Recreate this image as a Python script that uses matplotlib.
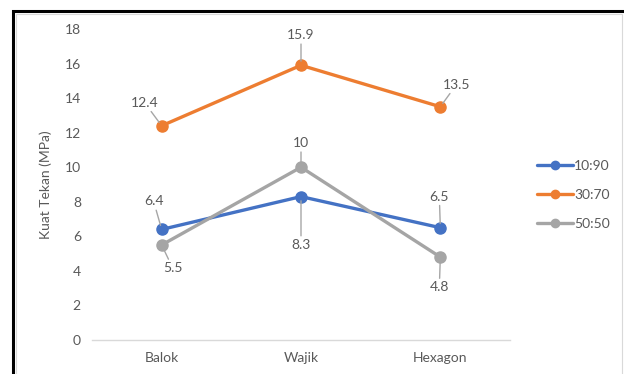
import matplotlib.pyplot as plt
from matplotlib.patches import Rectangle

# data
kategori = ['Balok', 'Wajik', 'Hexagon']
seri = ['10:90', '30:70', '50:50']
nilai_10_90 = [6.4, 8.3, 6.5]
nilai_30_70 = [12.4, 15.9, 13.5]
nilai_50_50 = [5.5, 10, 4.8]

warna = ['#4472C4', '#ED7D31', '#A5A5A5']
# posisi label data relatif terhadap titik (piksel)
offset_label = [
    [(-8, 28), (0, -48), (-1, 31)],
    [(-17, 23), (0, 30), (16, 22)],
    [(11, -23), (0, 24), (-1, -30)],
]

plt.rcParams['font.family'] = ['Lato', 'DejaVu Sans']
teks = '#595959'

fig = plt.figure(figsize=(6.24, 3.74), dpi=100)
ax = fig.add_axes([92 / 624, 1 - 340 / 374, (510 - 92) / 624, (340 - 29) / 374])

x = list(range(len(kategori)))
for nilai, nama, w, offs in zip([nilai_10_90, nilai_30_70, nilai_50_50], seri, warna, offset_label):
    ax.plot(x, nilai, color=w, lw=2.4, marker='o', markersize=8, label=nama,
            solid_capstyle='round')
    for xi, yi, (dx, dy) in zip(x, nilai, offs):
        ax.annotate(f'{yi:g}', xy=(xi, yi), xytext=(dx, dy), textcoords='offset pixels',
                    ha='center', va='center', fontsize=10, color=teks,
                    arrowprops=dict(arrowstyle='-', color='#A6A6A6', lw=1,
                                    shrinkA=0, shrinkB=3))

ax.set_xlim(-0.5, 2.5)
ax.set_ylim(0, 18)
ax.set_yticks(range(0, 19, 2))
ax.set_xticks(x)
ax.set_xticklabels(kategori)
ax.tick_params(length=0, labelsize=10, labelcolor=teks, pad=8)
ax.tick_params(axis='x', pad=9)
for s in ['top', 'right', 'left']:
    ax.spines[s].set_visible(False)
ax.spines['bottom'].set_color('#D9D9D9')
ax.spines['bottom'].set_linewidth(1)
ax.set_ylabel('Kuat Tekan (MPa)', fontsize=10, color=teks, labelpad=9)

leg = ax.legend(loc='center left', bbox_to_anchor=(524 / 624, 1 - 195 / 374),
                bbox_transform=fig.transFigure, frameon=False, fontsize=10,
                handlelength=2.6, handletextpad=0.1, labelspacing=1.2,
                markerscale=0.75)
for t in leg.get_texts():
    t.set_color(teks)

# bingkai gambar
fig.patches.append(Rectangle((13 / 624, -0.05), 1.2, 1 - 11 / 374 + 0.05,
                             transform=fig.transFigure, fill=False,
                             edgecolor='black', lw=2.2))
fig.patches.append(Rectangle((16 / 624, -0.05), (622 - 16) / 624, 1 - 14 / 374 + 0.05,
                             transform=fig.transFigure, fill=False,
                             edgecolor='#D9D9D9', lw=0.8))

fig.savefig('out.png', dpi=100)
